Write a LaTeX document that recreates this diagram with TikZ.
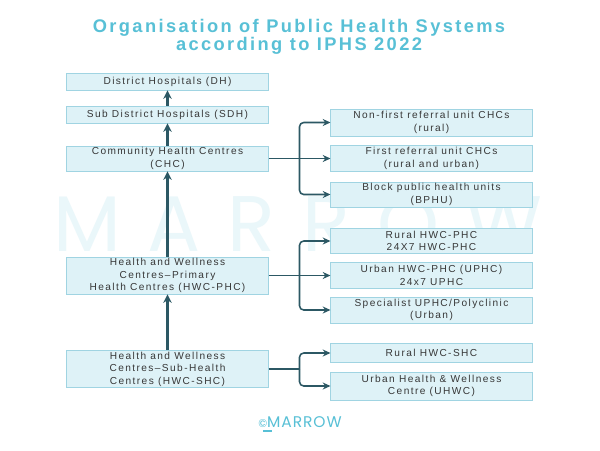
\documentclass[tikz,border=0pt]{standalone}
\usepackage{fontspec}
\setmainfont{Liberation Sans}[LetterSpace=14]
\newfontfamily\titlefont{Liberation Sans}[LetterSpace=13]
\newfontfamily\markfont{Poppins}[LetterSpace=34]
\newfontfamily\logofont{Poppins}[LetterSpace=6]
\usetikzlibrary{arrows.meta,calc}

\definecolor{boxfill}{RGB}{222,242,247}
\definecolor{boxline}{RGB}{160,212,226}
\definecolor{arrowcol}{RGB}{44,88,100}
\definecolor{titlecol}{RGB}{88,192,214}
\definecolor{markcol}{RGB}{234,247,250}
\definecolor{textcol}{RGB}{55,55,55}

\tikzset{
  lbox/.style={draw=boxline, fill=boxfill, line width=0.6pt, minimum width=5.03cm,
    align=center, inner sep=1pt, text=textcol, font=\fontsize{7.2}{8.8}\selectfont},
  up/.style={draw=arrowcol, line width=1.5pt, -{Stealth[length=6pt,width=6pt]}},
  branch/.style={draw=arrowcol, line width=1.1pt, -{Stealth[length=5.5pt,width=5pt]},
    rounded corners=3pt},
}

\begin{document}
\begin{tikzpicture}[x=0.025cm,y=-0.025cm]
\fill[white] (0,0) rectangle (600,450);
\useasboundingbox (0,0) rectangle (600,450);

% watermark
\node[text=markcol, font=\markfont\fontsize{56}{56}\selectfont] (wm) at (298,224) {MARROW};

% title
\node[text=titlecol, align=center, font=\titlefont\bfseries\fontsize{13}{12}\selectfont] (title) at (299,37)
  {Organisation of Public Health Systems\\according to IPHS 2022};

% main column
\node[lbox, minimum height=0.425cm] (dh) at (167.5,81.5) {District Hospitals (DH)};
\node[lbox, minimum height=0.425cm] (sdh) at (167.5,114.5) {Sub District Hospitals (SDH)};
\node[lbox, minimum height=0.625cm] (chc) at (167.5,158.5) {Community Health Centres\\(CHC)};
\node[lbox, minimum height=0.925cm] (phc) at (167.5,275.5) {Health and Wellness\\Centres--Primary\\Health Centres (HWC-PHC)};
\node[lbox, minimum height=0.9cm] (shc) at (167.5,369) {Health and Wellness\\Centres--Sub-Health\\Centres (HWC-SHC)};

% CHC types
\node[lbox, minimum height=0.675cm] (nf) at (431.5,122.5) {Non-first referral unit CHCs\\(rural)};
\node[lbox, minimum height=0.65cm] (fr) at (431.5,158.5) {First referral unit CHCs\\(rural and urban)};
\node[lbox, minimum height=0.625cm] (bp) at (431.5,194.5) {Block public health units\\(BPHU)};

% PHC types
\node[lbox, minimum height=0.625cm] (rphc) at (431.5,241) {Rural HWC-PHC\\24X7 HWC-PHC};
\node[lbox, minimum height=0.65cm] (uphc) at (431.5,275.5) {Urban HWC-PHC (UPHC)\\24x7 UPHC};
\node[lbox, minimum height=0.65cm] (sphc) at (431.5,310) {Specialist UPHC/Polyclinic\\(Urban)};

% SHC types
\node[lbox, minimum height=0.475cm] (rshc) at (431.5,353) {Rural HWC-SHC};
\node[lbox, minimum height=0.7cm] (uhwc) at (431.5,386) {Urban Health \& Wellness\\Centre (UHWC)};

% upward arrows
\draw[up] (sdh) -- (dh);
\draw[up] (chc) -- (sdh);
\draw[up] (phc) -- (chc);
\draw[up] (shc) -- (phc);

% branches
\coordinate (bchc) at ($(chc.east)!0.5!(fr.west)$);
\draw[branch] (chc.east) -- (fr.west);
\draw[branch] (bchc) |- (nf.west);
\draw[branch] (bchc) |- (bp.west);

\coordinate (bphc) at (bchc |- phc.east);
\draw[branch] (phc.east) -- (uphc.west);
\draw[branch] (bphc) |- (rphc.west);
\draw[branch] (bphc) |- (sphc.west);

\coordinate (bshc) at (bchc |- shc.east);
\draw[draw=arrowcol, line width=1.1pt] (shc.east) -- (bshc);
\draw[branch] (bshc) |- (rshc.west);
\draw[branch] (bshc) |- (uhwc.west);

% logo
\node[text=titlecol, font=\logofont\fontsize{11}{11}\selectfont] (logo) at (300,422)
  {{\fontsize{8}{8}\selectfont\textcopyright}MARROW};
\draw[titlecol, line width=0.8pt] (263,431) -- (272,431);

\end{tikzpicture}
\end{document}
